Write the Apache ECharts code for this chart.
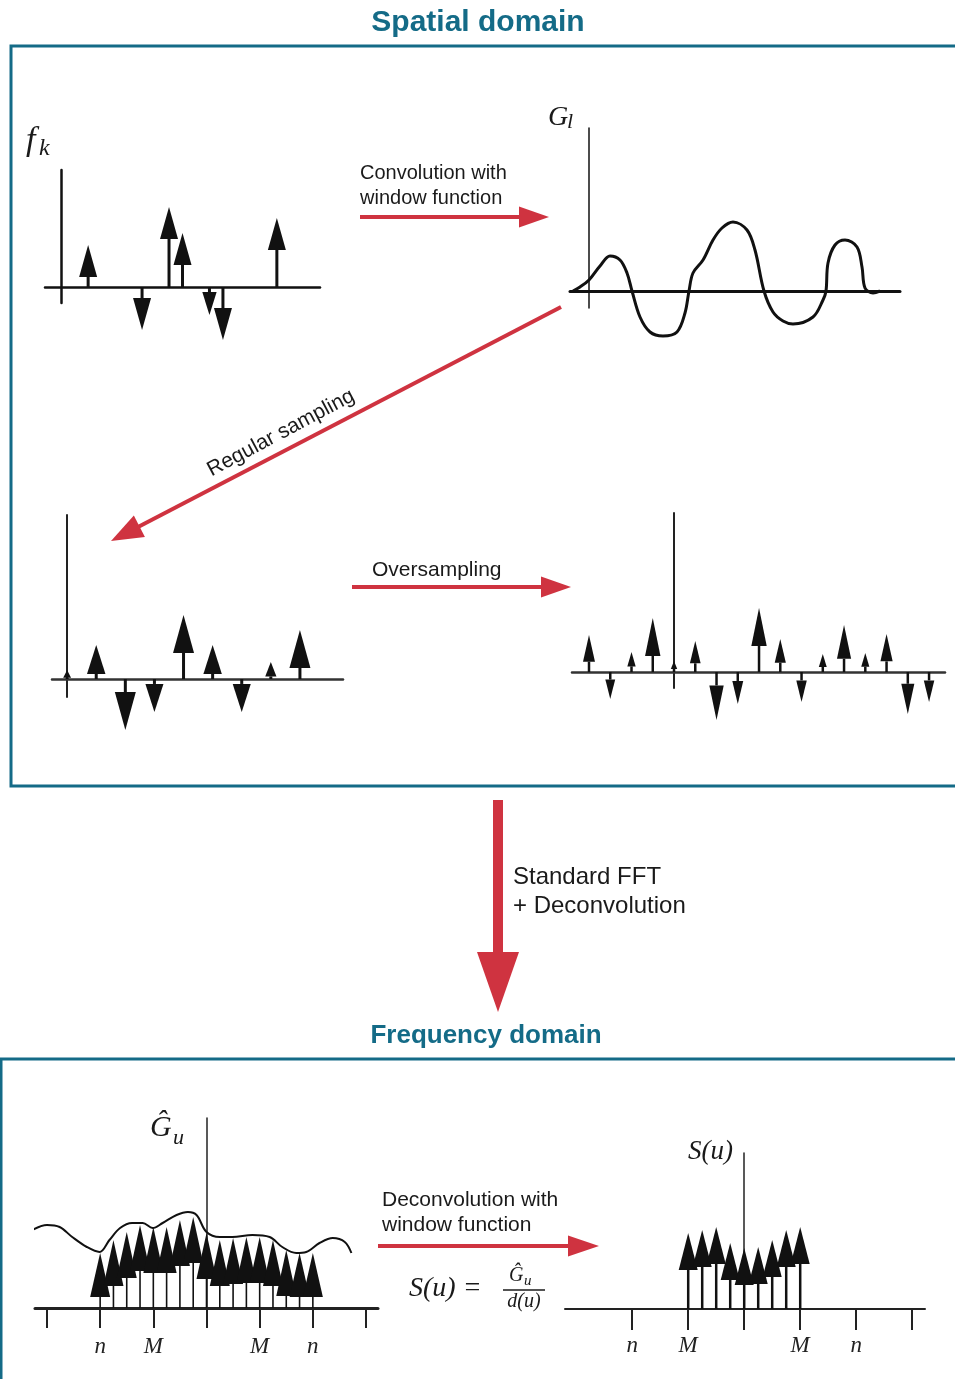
<!DOCTYPE html>
<html>
<head>
<meta charset="utf-8">
<script src="https://cdn.jsdelivr.net/npm/echarts@6/dist/echarts.min.js"></script>
<style>
  html, body { margin: 0; padding: 0; background: #fff; }
  #chart { width: 955px; height: 1379px; }
</style>
</head>
<body>
<div id="chart"></div>
<script>
// ---- f_k : point sources on the grid ----
const fkPos = [2, 6, 8, 9, 11, 12, 16];
const fkVal = [4.2, -4.3, 8.0, 5.4, -2.8, -5.3, 6.9];

// ---- G_l : source convolved with the window function ----
const glX = [-1.6, -0.9, 0, 1.1, 2.1, 3.1, 3.8, 4.3, 5.1, 6.1, 7.4, 8.8, 9.6, 10.0, 10.4, 11.4, 12.4, 13.3, 14.4, 15.8, 16.6, 17.5, 18.4, 19.4, 20.4, 22.4, 23.4, 23.7, 23.9, 24.6, 25.6, 26.8, 27.3, 27.6, 28.4, 29.1];
const glY = [0, 0.4, 1.1, 2.5, 3.5, 3.1, 1.8, 0, -2.6, -4.1, -4.5, -4.1, -2.2, 0, 1.8, 3.1, 5.1, 6.3, 6.9, 6.1, 4.1, 0, -2.1, -3.0, -3.3, -2.6, -0.9, 0, 2.8, 4.6, 5.1, 4.4, 2.4, 0.3, -0.2, 0];

// ---- regular sampling of G_l ----
const regPos = [0, 1, 2, 3, 4, 5, 6, 7, 8];
const regVal = [0.9, 3.4, -5.1, -3.3, 6.4, 3.4, -3.3, 1.7, 4.9];

// ---- oversampled grid ----
const overPos = [-4, -3, -2, -1, 0, 1, 2, 3, 4, 5, 6, 7, 8, 9, 10, 11, 12];
const overVal = [3.7, -2.7, 2.0, 5.4, 1.1, 3.1, -4.8, -3.2, 6.4, 3.3, -3.0, 1.8, 4.7, 1.9, 3.8, -4.2, -3.0];

// ---- Ĝ_u : FFT of the oversampled grid ----
const guPos = [-8, -7, -6, -5, -4, -3, -2, -1, 0, 1, 2, 3, 4, 5, 6, 7, 8];
const guVal = [5.5, 6.8, 7.6, 8.3, 8.1, 8.1, 8.8, 9.1, 7.5, 6.8, 7.0, 7.1, 7.1, 6.8, 5.8, 5.5, 5.5];
const guEnvX = [-13.1, -12.0, -11.05, -10.1, -9.0, -8.05, -7.3, -6.5, -5.6, -4.8, -4.05, -3.3, -2.25, -1.4, -0.75, 0, 1.0, 1.95, 3.45, 4.75, 5.7, 6.75, 7.5, 8.5, 9.5, 10.4, 10.9];
const guEnvY = [7.8, 8.3, 8.1, 7.1, 6.1, 5.6, 6.8, 8.0, 8.5, 8.5, 8.0, 8.5, 9.3, 9.6, 9.3, 7.6, 7.1, 7.1, 7.3, 7.1, 6.1, 5.5, 5.6, 6.5, 7.0, 6.6, 5.5];

// ---- S(u) : after deconvolution ----
const suPos = [-4, -3, -2, -1, 0, 1, 2, 3, 4];
const suVal = [7.6, 7.9, 8.2, 6.6, 6.1, 6.2, 6.9, 7.9, 8.2];

// ---- frequency axis ticks and labels ----
const guTicks = [-12, -8, -4, 0, 4, 8, 12];
const guTickLabels = ['', 'n', 'M', '', 'M', 'n', ''];
const suTicks = [-8, -4, 0, 4, 8, 12];
const suTickLabels = ['n', 'M', '', 'M', 'n', ''];

const INK = '#111';
const RED = '#cf3340';
const TEAL = '#146b87';
const SERIF = '"Liberation Serif", "DejaVu Serif", serif';
const SANS = '"Liberation Sans", Arial, sans-serif';

// stem with a filled arrow head whose tip sits at the value
function stemSeries(idx, pos, val, head) {
  return {
    type: 'custom',
    xAxisIndex: idx,
    yAxisIndex: idx,
    clip: false,
    z: 3,
    data: pos.map((p, i) => [p, val[i]]),
    renderItem(params, api) {
      const x = api.value(0), v = api.value(1);
      const b = api.coord([x, 0]);
      const t = api.coord([x, v]);
      const len = Math.abs(t[1] - b[1]);
      const dir = t[1] < b[1] ? 1 : -1;
      const hl = Math.min(head.cap, head.ratio * len);
      const hw = Math.min(head.wMax, hl * head.wRatio + 4);
      const baseY = t[1] + dir * hl;
      return {
        type: 'group',
        children: [
          { type: 'line', shape: { x1: b[0], y1: b[1], x2: b[0], y2: baseY },
            style: { stroke: INK, lineWidth: head.stem } },
          { type: 'polygon', shape: { points: [[t[0], t[1]], [t[0] - hw / 2, baseY], [t[0] + hw / 2, baseY]] },
            style: { fill: INK } }
        ]
      };
    }
  };
}

function hiddenAxis(extra) {
  return Object.assign({
    type: 'value',
    axisLabel: { show: false },
    axisTick: { show: false },
    splitLine: { show: false }
  }, extra);
}

function freqXAxis(idx, min, max, ticks, labels, lineW, tickLen, margin) {
  return hiddenAxis({
    gridIndex: idx, min: min, max: max,
    axisLine: { show: true, onZero: true, lineStyle: { color: '#222', width: lineW } },
    axisTick: { show: true, length: tickLen, customValues: ticks,
                lineStyle: { color: '#222', width: 2 } },
    axisLabel: {
      show: true,
      customValues: ticks.filter((v, i) => labels[i] !== ''),
      formatter: v => labels[ticks.indexOf(v)],
      fontFamily: SERIF, fontStyle: 'italic', fontSize: 23, color: '#222', margin: margin
    }
  });
}

// straight arrow drawn as shaft + head
function arrow(x1, y1, x2, y2, w, hl, hw, color) {
  const dx = x2 - x1, dy = y2 - y1, L = Math.hypot(dx, dy);
  const ux = dx / L, uy = dy / L, nx = -uy, ny = ux;
  const bx = x2 - ux * hl, by = y2 - uy * hl;
  return [
    { type: 'line', shape: { x1: x1, y1: y1, x2: bx + ux, y2: by + uy },
      style: { stroke: color, lineWidth: w } },
    { type: 'polygon',
      shape: { points: [[x2, y2], [bx + nx * hw / 2, by + ny * hw / 2], [bx - nx * hw / 2, by - ny * hw / 2]] },
      style: { fill: color } }
  ];
}

function label(x, y, text, font, align, color, extra) {
  return Object.assign({
    type: 'text', x: x, y: y, z: 10,
    style: { text: text, font: font, fill: color || '#1a1a1a',
             textAlign: align || 'left', textVerticalAlign: 'middle' }
  }, extra || {});
}

const graphics = [
  // frames
  { type: 'rect', shape: { x: 11, y: 46, width: 970, height: 740 },
    style: { fill: 'none', stroke: TEAL, lineWidth: 3 } },
  { type: 'rect', shape: { x: 1, y: 1059, width: 990, height: 400 },
    style: { fill: 'none', stroke: TEAL, lineWidth: 3 } },
  // titles
  label(478, 23, 'Spatial domain', 'bold 30px ' + SANS, 'center', TEAL),
  label(486, 1036, 'Frequency domain', 'bold 26px ' + SANS, 'center', TEAL),
  // process arrows
  ...arrow(360, 217, 549, 217, 4, 30, 21, RED),
  ...arrow(561, 307, 111, 541, 4, 32, 24, RED),
  ...arrow(352, 587, 571, 587, 4, 30, 21, RED),
  ...arrow(378, 1246, 599, 1246, 4, 31, 21, RED),
  ...arrow(498, 800, 498, 1012, 10, 60, 42, RED),
  // arrow captions
  label(360, 173, 'Convolution with', '20px ' + SANS),
  label(360, 198, 'window function', '20px ' + SANS),
  label(281, 433, 'Regular sampling', '21px ' + SANS, 'center', null, { rotation: 28 * Math.PI / 180 }),
  label(372, 570, 'Oversampling', '21px ' + SANS),
  label(513, 877, 'Standard FFT', '24px ' + SANS),
  label(513, 906, '+ Deconvolution', '24px ' + SANS),
  label(382, 1200, 'Deconvolution with', '21px ' + SANS),
  label(382, 1225, 'window function', '21px ' + SANS),
  // plot symbols
  label(26, 141, 'f', 'italic 34px ' + SERIF),
  label(39, 149, 'k', 'italic 24px ' + SERIF),
  label(548, 118, 'G', 'italic 28px ' + SERIF),
  label(567, 122, 'l', 'italic 22px ' + SERIF),
  label(150, 1128, 'Ĝ', 'italic 30px ' + SERIF),
  label(173, 1138, 'u', 'italic 22px ' + SERIF),
  label(688, 1152, 'S(u)', 'italic 27px ' + SERIF),
  // S(u) = Ĝu / d(u)
  label(409, 1289, 'S(u) =', 'italic 28px ' + SERIF),
  label(509, 1276, 'Ĝ', 'italic 20px ' + SERIF),
  label(524, 1281, 'u', 'italic 15px ' + SERIF),
  { type: 'line', shape: { x1: 503, y1: 1290, x2: 545, y2: 1290 }, style: { stroke: '#1a1a1a', lineWidth: 1.5 } },
  label(524, 1302, 'd(u)', 'italic 20px ' + SERIF, 'center')
];

const chart = echarts.init(document.getElementById('chart'), null, { renderer: 'canvas' });

chart.setOption({
  animation: false,
  backgroundColor: '#fff',
  grid: [
    { left: 45, top: 170, width: 275, height: 133 },
    { left: 570, top: 128, width: 330, height: 180 },
    { left: 52, top: 515, width: 291, height: 182 },
    { left: 572, top: 513, width: 373, height: 175 },
    { left: 35, top: 1118, width: 343, height: 190 },
    { left: 565, top: 1153, width: 360, height: 156 }
  ],
  xAxis: [
    hiddenAxis({ gridIndex: 0, min: -1.2, max: 19.2, axisLine: { onZero: true, lineStyle: { color: INK, width: 2.5 } } }),
    hiddenAxis({ gridIndex: 1, min: -1.9, max: 31.1, axisLine: { onZero: true, lineStyle: { color: INK, width: 3 } } }),
    hiddenAxis({ gridIndex: 2, min: -0.52, max: 9.48, axisLine: { onZero: true, lineStyle: { color: '#333', width: 2.5 } } }),
    hiddenAxis({ gridIndex: 3, min: -4.8, max: 12.75, axisLine: { onZero: true, lineStyle: { color: '#333', width: 2.5 } } }),
    freqXAxis(4, -12.9, 12.9, guTicks, guTickLabels, 3, 20, 27),
    freqXAxis(5, -12.8, 12.914, suTicks, suTickLabels, 2, 21, 25)
  ],
  yAxis: [
    hiddenAxis({ gridIndex: 0, min: -1.6, max: 11.7, axisLine: { onZero: true, lineStyle: { color: INK, width: 2.5 } } }),
    hiddenAxis({ gridIndex: 1, min: -1.7, max: 16.3, axisLine: { onZero: true, lineStyle: { color: INK, width: 1.5 } } }),
    hiddenAxis({ gridIndex: 2, min: -1.8, max: 16.4, axisLine: { onZero: true, lineStyle: { color: '#222', width: 2 } } }),
    hiddenAxis({ gridIndex: 3, min: -1.6, max: 15.9, axisLine: { onZero: true, lineStyle: { color: '#222', width: 2 } } }),
    hiddenAxis({ gridIndex: 4, min: 0, max: 19, axisLine: { onZero: true, lineStyle: { color: '#222', width: 1.5 } } }),
    hiddenAxis({ gridIndex: 5, min: 0, max: 15.6, axisLine: { onZero: true, lineStyle: { color: '#222', width: 1.5 } } })
  ],
  series: [
    stemSeries(0, fkPos, fkVal, { cap: 32, ratio: 0.82, wRatio: 0.45, wMax: 18, stem: 3 }),
    {
      type: 'line', xAxisIndex: 1, yAxisIndex: 1, clip: false,
      data: glX.map((x, i) => [x, glY[i]]),
      smooth: 0.35, showSymbol: false,
      lineStyle: { color: INK, width: 3 }
    },
    stemSeries(2, regPos, regVal, { cap: 38, ratio: 0.85, wRatio: 0.5, wMax: 21, stem: 3 }),
    stemSeries(3, overPos, overVal, { cap: 38, ratio: 0.72, wRatio: 0.3, wMax: 16, stem: 2.5 }),
    stemSeries(4, guPos, guVal, { cap: 46, ratio: 0.8, wRatio: 0.4, wMax: 20, stem: 1.6 }),
    {
      type: 'line', xAxisIndex: 4, yAxisIndex: 4, clip: false,
      data: guEnvX.map((x, i) => [x, guEnvY[i]]),
      smooth: 0.35, showSymbol: false, z: 4,
      lineStyle: { color: INK, width: 2 }
    },
    stemSeries(5, suPos, suVal, { cap: 37, ratio: 0.8, wRatio: 0.45, wMax: 19, stem: 2.5 })
  ],
  graphic: { elements: graphics }
});
</script>
</body>
</html>
